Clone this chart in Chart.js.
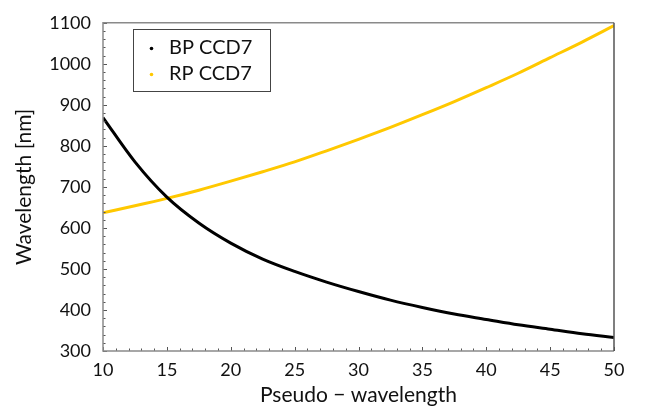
<!DOCTYPE html>
<html><head><meta charset="utf-8">
<script src="https://cdn.jsdelivr.net/npm/chart.js@4/dist/chart.umd.min.js"></script>
<style>html,body{margin:0;padding:0;background:#fff;}#wrap{width:646px;height:412px;}</style>
</head><body><div id="wrap"><canvas id="c" width="646" height="412"></canvas></div>
<script>
// Data
const pseudoWavelength = [10, 12.5, 15, 17.5, 20, 22.5, 25, 27.5, 30, 32.5, 35, 37.5, 40, 42.5, 45, 47.5, 50];
const bpCCD7 = [869, 761, 675, 612, 563, 524, 494, 468, 445, 424, 406, 390, 377, 364, 353, 342, 333];
const rpCCD7 = [637, 654, 672, 692, 714, 737, 761, 788, 816, 845, 876, 908, 942, 977, 1015, 1053, 1093];
const seriesLabels = ['BP CCD7', 'RP CCD7'];
const xTickValues = [10, 15, 20, 25, 30, 35, 40, 45, 50];
const yTickValues = [300, 400, 500, 600, 700, 800, 900, 1000, 1100];

const FONT = 'Lato';
const toPts = (xs, ys) => xs.map((x, i) => ({x: x, y: ys[i]}));

const framePlugin = {
  id: 'frame',
  afterDraw(chart) {
    const ctx = chart.ctx, a = chart.chartArea;
    const xs = chart.scales.x, ys = chart.scales.y;
    ctx.save();
    // ticks
    ctx.strokeStyle = '#555';
    ctx.lineWidth = 1;
    ctx.beginPath();
    for (let v = xs.min; v <= xs.max + 1e-9; v += 1) {
      const px = Math.round(xs.getPixelForValue(v)) + 0.5;
      const major = xTickValues.includes(v);
      ctx.moveTo(px, a.bottom);
      ctx.lineTo(px, a.bottom - (major ? 4 : 2.5));
    }
    for (let v = ys.min; v <= ys.max + 1e-9; v += 20) {
      const py = Math.round(ys.getPixelForValue(v)) + 0.5;
      const major = yTickValues.includes(v);
      ctx.moveTo(a.left, py);
      ctx.lineTo(a.left + (major ? 4 : 2.5), py);
    }
    ctx.stroke();
    // frame
    ctx.lineWidth = 1.5;
    ctx.strokeStyle = '#8a8a8a';
    ctx.beginPath();
    ctx.moveTo(a.right, a.top); ctx.lineTo(a.left, a.top);
    ctx.lineTo(a.left, a.bottom); ctx.lineTo(a.right, a.bottom);
    ctx.stroke();
    ctx.strokeStyle = '#555';
    ctx.beginPath();
    ctx.moveTo(a.right, a.top); ctx.lineTo(a.right, a.bottom);
    ctx.stroke();
    // legend
    const bx = 133.5, by = 29.5, bw = 137, bh = 62;
    ctx.fillStyle = '#fff';
    ctx.fillRect(bx, by, bw, bh);
    ctx.lineWidth = 1;
    ctx.strokeStyle = '#444';
    ctx.strokeRect(bx, by, bw, bh);
    ctx.font = '20px ' + FONT;
    ctx.textBaseline = 'middle';
    ctx.textAlign = 'left';
    chart.data.datasets.forEach((ds, i) => {
      const cy = 48 + i * 26;
      ctx.fillStyle = ds.borderColor;
      ctx.beginPath();
      ctx.arc(151.5, cy + 0.5, 1.8, 0, Math.PI * 2);
      ctx.fill();
      ctx.fillStyle = '#111';
      ctx.fillText(ds.label, 169, cy);
    });
    ctx.restore();
  }
};

new Chart(document.getElementById('c'), {
  type: 'scatter',
  data: {
    datasets: [
      {label: seriesLabels[0], data: toPts(pseudoWavelength, bpCCD7), showLine: true,
       borderColor: '#000000', backgroundColor: '#000000', borderWidth: 3, pointRadius: 0,
       cubicInterpolationMode: 'monotone'},
      {label: seriesLabels[1], data: toPts(pseudoWavelength, rpCCD7), showLine: true,
       borderColor: '#ffc800', backgroundColor: '#ffc800', borderWidth: 3, pointRadius: 0,
       cubicInterpolationMode: 'monotone'}
    ]
  },
  options: {
    responsive: false,
    animation: false,
    devicePixelRatio: 1,
    layout: {padding: {left: 0, top: 13, right: 32, bottom: 0}},
    plugins: {legend: {display: false}, tooltip: {enabled: false}},
    scales: {
      x: {
        type: 'linear', min: 10, max: 50,
        afterBuildTicks: s => { s.ticks = xTickValues.map(v => ({value: v})); },
        afterFit: s => { s.height = 61; },
        grid: {display: false, drawTicks: false},
        border: {display: false},
        ticks: {color: '#111', font: {family: FONT, size: 18}, padding: 8, maxRotation: 0,
                callback: v => String(v)},
        title: {display: true, text: 'Pseudo \u2212 wavelength', color: '#111',
                font: {family: FONT, size: 21}, padding: {top: 0, bottom: 4}}
      },
      y: {
        type: 'linear', min: 300, max: 1100,
        afterBuildTicks: s => { s.ticks = yTickValues.map(v => ({value: v})); },
        afterFit: s => { s.width = 103; },
        grid: {display: false, drawTicks: false},
        border: {display: false},
        ticks: {color: '#111', font: {family: FONT, size: 18}, padding: 12,
                callback: v => String(v)},
        title: {display: true, text: 'Wavelength [nm]', color: '#111',
                font: {family: FONT, size: 21}, padding: {top: 12, bottom: 0}}
      }
    }
  },
  plugins: [framePlugin]
});
</script>
</body></html>
